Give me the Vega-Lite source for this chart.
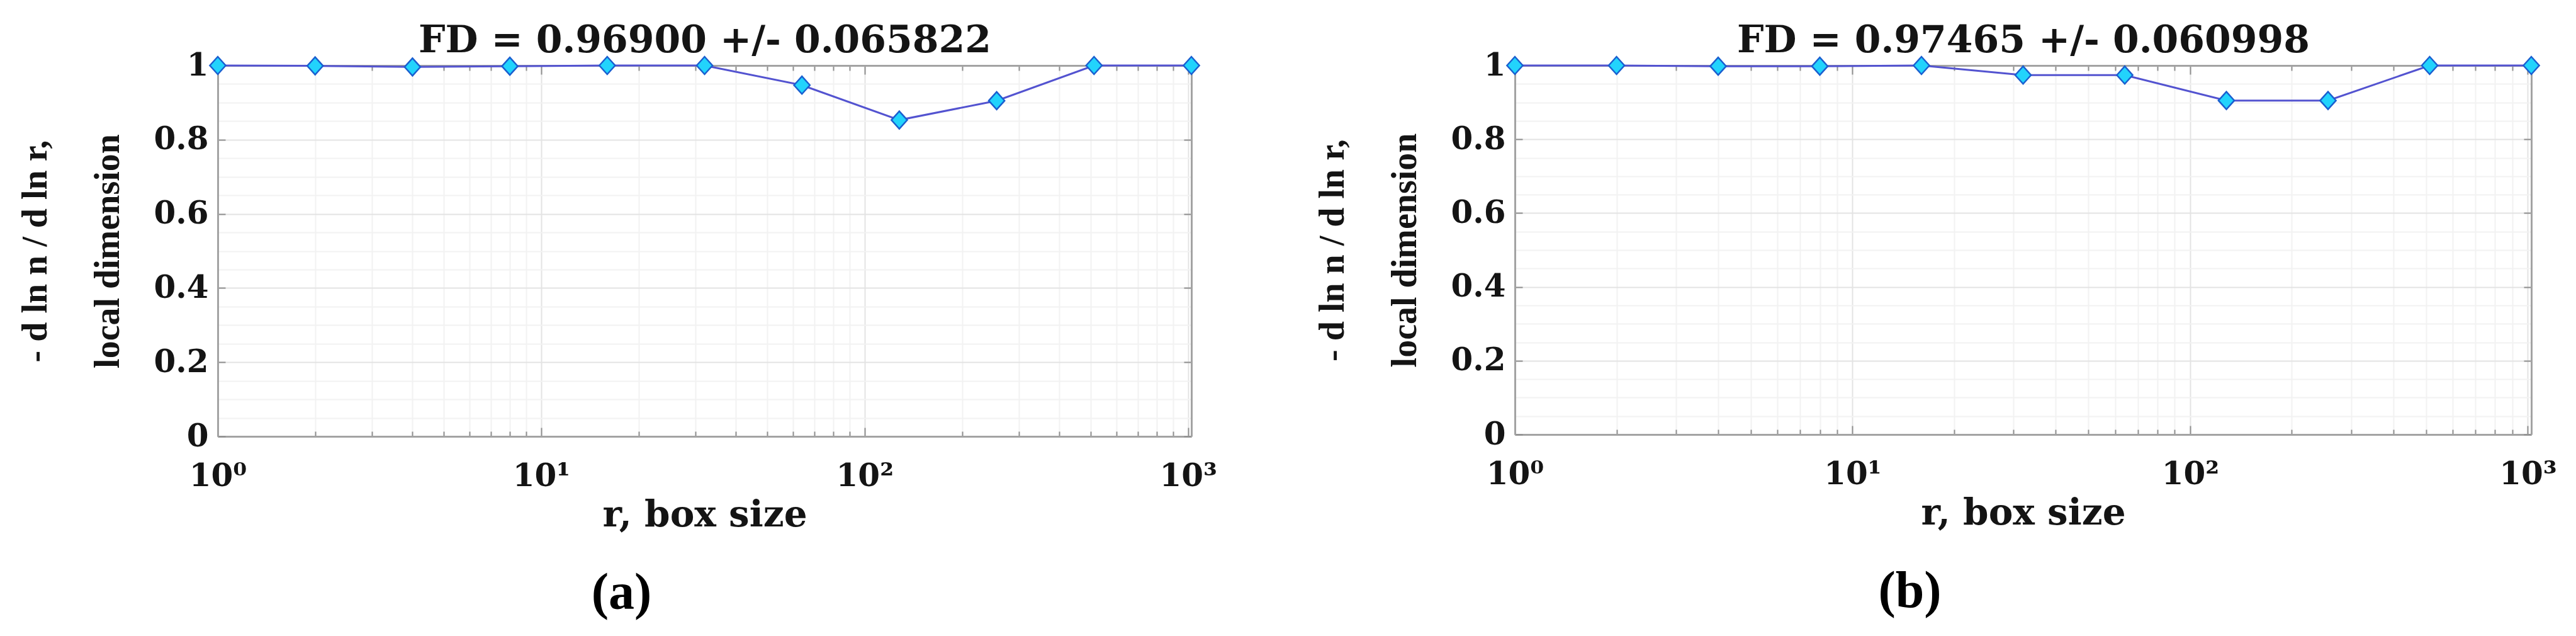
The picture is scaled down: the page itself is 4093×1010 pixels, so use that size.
{
  "$schema": "https://vega.github.io/schema/vega-lite/v6.json",
  "background": "white",
  "padding": {"left": 28, "top": 34, "right": 0, "bottom": 20},
  "datasets": {
    "a": [
      {"r": 1, "d": 1.0}, {"r": 2, "d": 0.999}, {"r": 4, "d": 0.996}, {"r": 8, "d": 0.998},
      {"r": 16, "d": 1.0}, {"r": 32, "d": 1.0}, {"r": 64, "d": 0.947}, {"r": 128, "d": 0.853},
      {"r": 256, "d": 0.905}, {"r": 512, "d": 1.0}, {"r": 1024, "d": 1.0}
    ],
    "b": [
      {"r": 1, "d": 1.0}, {"r": 2, "d": 1.0}, {"r": 4, "d": 0.998}, {"r": 8, "d": 0.998},
      {"r": 16, "d": 1.0}, {"r": 32, "d": 0.974}, {"r": 64, "d": 0.974}, {"r": 128, "d": 0.905},
      {"r": 256, "d": 0.905}, {"r": 512, "d": 1.0}, {"r": 1024, "d": 1.0}
    ]
  },
  "spacing": 514,
  "bounds": "flush",
  "hconcat": [
    {
      "width": 1547,
      "height": 589,
      "data": {"name": "a"},
      "title": {"text": "(a)", "orient": "bottom", "anchor": "middle", "dx": -132, "offset": 55, "font": "Liberation Serif", "fontSize": 82, "fontWeight": "bold", "color": "#000000"},
      "layer": [
        {
          "mark": {"type": "line", "color": "#5353d0", "strokeWidth": 3},
          "encoding": {
            "x": {"field": "r", "type": "quantitative", "scale": {"type": "log", "domain": [1, 1024], "nice": false},
              "axis": {"orient": "bottom", "zindex": 0,
                "values": [1,2,3,4,5,6,7,8,9,10,20,30,40,50,60,70,80,90,100,200,300,400,500,600,700,800,900,1000],
                "labelExpr": "datum.value == 1 ? '10⁰' : datum.value == 10 ? '10¹' : datum.value == 100 ? '10²' : datum.value == 1000 ? '10³' : ''",
                "title": "r, box size", "titlePadding": 2,
                "grid": true,
                "gridColor": {"condition": {"test": "datum.value == 1 || datum.value == 10 || datum.value == 100 || datum.value == 1000", "value": "#e3e3e3"}, "value": "#f2f2f2"},
                "tickSize": {"condition": {"test": "datum.value == 1 || datum.value == 10 || datum.value == 100 || datum.value == 1000", "value": -14}, "value": -8},
                "labelPadding": 52}},
            "y": {"field": "d", "type": "quantitative", "scale": {"domain": [0, 1], "nice": false},
              "axis": {"orient": "left", "zindex": 0,
                "values": [0,0.05,0.1,0.15,0.2,0.25,0.3,0.35,0.4,0.45,0.5,0.55,0.6,0.65,0.7,0.75,0.8,0.85,0.9,0.95,1],
                "labelExpr": "abs(datum.value*5 - round(datum.value*5)) < 0.001 ? format(datum.value, '~g') : ''",
                "title": ["- d ln n / d ln r,", "local dimension"],
                "titleFont": "Liberation Serif", "titleFontSize": 56, "titleLineHeight": 115, "titlePadding": 44,
                "grid": true,
                "gridColor": {"condition": {"test": "abs(datum.value*5 - round(datum.value*5)) < 0.001", "value": "#e3e3e3"}, "value": "#f2f2f2"},
                "tickOpacity": {"condition": {"test": "abs(datum.value*5 - round(datum.value*5)) < 0.001", "value": 1}, "value": 0},
                "tickSize": -12,
                "labelPadding": 27}}
          }
        },
        {
          "mark": {"type": "point", "shape": "M-0.9,0L0,-1L0.9,0L0,1Z", "size": 784, "filled": true, "fill": "#22d3fc", "stroke": "#1a5fd0", "strokeWidth": 2.5, "opacity": 1},
          "encoding": {
            "x": {"field": "r", "type": "quantitative",
              "axis": {"orient": "top", "zindex": 0, "labels": false, "grid": false,
                "values": [1,2,3,4,5,6,7,8,9,10,20,30,40,50,60,70,80,90,100,200,300,400,500,600,700,800,900,1000],
                "tickSize": {"condition": {"test": "datum.value == 1 || datum.value == 10 || datum.value == 100 || datum.value == 1000", "value": -14}, "value": -8},
                "title": "FD = 0.96900 +/- 0.065822", "titleFontSize": 60, "titlePadding": 8}},
            "y": {"field": "d", "type": "quantitative",
              "axis": {"orient": "right", "zindex": 0, "labels": false, "grid": false, "title": null,
                "values": [0, 0.2, 0.4, 0.6, 0.8, 1], "tickSize": -12}}
          }
        }
      ],
      "resolve": {"axis": {"x": "independent", "y": "independent"}}
    },
    {
      "width": 1615,
      "height": 586,
      "data": {"name": "b"},
      "title": {"text": "(b)", "orient": "bottom", "anchor": "middle", "dx": -180, "offset": 55, "font": "Liberation Serif", "fontSize": 82, "fontWeight": "bold", "color": "#000000"},
      "layer": [
        {
          "mark": {"type": "line", "color": "#5353d0", "strokeWidth": 3},
          "encoding": {
            "x": {"field": "r", "type": "quantitative", "scale": {"type": "log", "domain": [1, 1024], "nice": false},
              "axis": {"orient": "bottom", "zindex": 0,
                "values": [1,2,3,4,5,6,7,8,9,10,20,30,40,50,60,70,80,90,100,200,300,400,500,600,700,800,900,1000],
                "labelExpr": "datum.value == 1 ? '10⁰' : datum.value == 10 ? '10¹' : datum.value == 100 ? '10²' : datum.value == 1000 ? '10³' : ''",
                "title": "r, box size", "titlePadding": 2,
                "grid": true,
                "gridColor": {"condition": {"test": "datum.value == 1 || datum.value == 10 || datum.value == 100 || datum.value == 1000", "value": "#e3e3e3"}, "value": "#f2f2f2"},
                "tickSize": {"condition": {"test": "datum.value == 1 || datum.value == 10 || datum.value == 100 || datum.value == 1000", "value": -14}, "value": -8},
                "labelPadding": 52}},
            "y": {"field": "d", "type": "quantitative", "scale": {"domain": [0, 1], "nice": false},
              "axis": {"orient": "left", "zindex": 0,
                "values": [0,0.05,0.1,0.15,0.2,0.25,0.3,0.35,0.4,0.45,0.5,0.55,0.6,0.65,0.7,0.75,0.8,0.85,0.9,0.95,1],
                "labelExpr": "abs(datum.value*5 - round(datum.value*5)) < 0.001 ? format(datum.value, '~g') : ''",
                "title": ["- d ln n / d ln r,", "local dimension"],
                "titleFont": "Liberation Serif", "titleFontSize": 56, "titleLineHeight": 115, "titlePadding": 44,
                "grid": true,
                "gridColor": {"condition": {"test": "abs(datum.value*5 - round(datum.value*5)) < 0.001", "value": "#e3e3e3"}, "value": "#f2f2f2"},
                "tickOpacity": {"condition": {"test": "abs(datum.value*5 - round(datum.value*5)) < 0.001", "value": 1}, "value": 0},
                "tickSize": -12,
                "labelPadding": 27}}
          }
        },
        {
          "mark": {"type": "point", "shape": "M-0.9,0L0,-1L0.9,0L0,1Z", "size": 784, "filled": true, "fill": "#22d3fc", "stroke": "#1a5fd0", "strokeWidth": 2.5, "opacity": 1},
          "encoding": {
            "x": {"field": "r", "type": "quantitative",
              "axis": {"orient": "top", "zindex": 0, "labels": false, "grid": false,
                "values": [1,2,3,4,5,6,7,8,9,10,20,30,40,50,60,70,80,90,100,200,300,400,500,600,700,800,900,1000],
                "tickSize": {"condition": {"test": "datum.value == 1 || datum.value == 10 || datum.value == 100 || datum.value == 1000", "value": -14}, "value": -8},
                "title": "FD = 0.97465 +/- 0.060998", "titleFontSize": 60, "titlePadding": 8}},
            "y": {"field": "d", "type": "quantitative",
              "axis": {"orient": "right", "zindex": 0, "labels": false, "grid": false, "title": null,
                "values": [0, 0.2, 0.4, 0.6, 0.8, 1], "tickSize": -12}}
          }
        }
      ],
      "resolve": {"axis": {"x": "independent", "y": "independent"}}
    }
  ],
  "config": {
    "view": {"stroke": null},
    "axis": {
      "domainColor": "#a3a3a3", "domainWidth": 3,
      "tickColor": "#8f8f8f", "tickWidth": 2,
      "labelFont": "DejaVu Serif", "labelFontSize": 50, "labelFontWeight": "bold", "labelColor": "#141414",
      "labelFlush": false, "labelOverlap": false, "labelBound": false,
      "titleFont": "DejaVu Serif", "titleFontSize": 58, "titleFontWeight": "bold", "titleColor": "#141414",
      "gridWidth": 2
    }
  }
}
